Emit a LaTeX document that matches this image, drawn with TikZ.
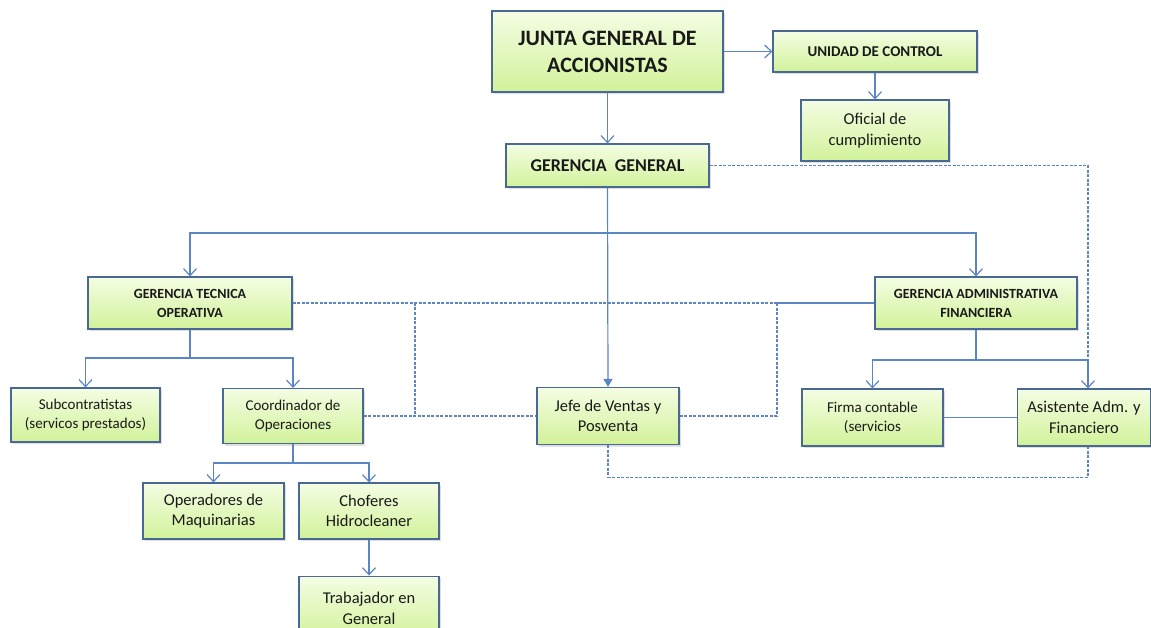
\documentclass[tikz,border=0pt]{standalone}
\usepackage{fontspec}
\setmainfont{Carlito}
\usetikzlibrary{arrows.meta, positioning, shadows, calc}

\definecolor{boxline}{HTML}{4A6894}
\definecolor{boxtop}{HTML}{F4FDE3}
\definecolor{boxbot}{HTML}{D2F29A}
\definecolor{linkblue}{HTML}{5B86C6}

\tikzset{
  org/.style={draw=boxline, line width=1.1pt, top color=boxtop, bottom color=boxbot,
    inner sep=0pt, align=center, text=black!90,
    drop shadow={shadow xshift=1.5pt, shadow yshift=-2pt, opacity=0.25}},
  bigtitle/.style={font=\bfseries\fontsize{22}{27}\selectfont},
  midtitle/.style={font=\bfseries\fontsize{14}{19}\selectfont},
  small/.style={font=\fontsize{15}{19}\selectfont},
  plain/.style={font=\fontsize{16.5}{20.5}\selectfont},
  link/.style={draw=linkblue, line width=1.2pt},
  arr/.style={link, -{Straight Barb[length=7pt,width=13pt]}},
  dsh/.style={draw=linkblue, line width=1.1pt, dash pattern=on 3pt off 1.5pt}
}

\begin{document}
\begin{tikzpicture}[x=1pt, y=-1pt, node distance=36pt]
    \useasboundingbox (0,0) rectangle (1151,628);

    % top of the chart
    \node[org, bigtitle, minimum width=231pt, minimum height=81pt] (junta) at (607.5,51.5) {JUNTA GENERAL DE\\ACCIONISTAS};
    \node[org, font=\bfseries\fontsize{15}{19}\selectfont, minimum width=204pt, minimum height=41pt] (unidad) at (875,51.5) {UNIDAD DE CONTROL};
    \node[org, plain, minimum width=148pt, minimum height=61pt] (oficial) at (875,130.5) {Oficial de\\cumplimiento};
    \node[org, font=\bfseries\fontsize{18}{22}\selectfont, minimum width=203pt, minimum height=43pt] (gg) at (607.5,165.5) {GERENCIA\ \ GENERAL};

    % managers
    \node[org, midtitle, minimum width=204pt, minimum height=52pt] (gto) at (190,303) {GERENCIA TECNICA\\OPERATIVA};
    \node[org, midtitle, minimum width=202pt, minimum height=52pt] (gaf) at (976,303) {GERENCIA ADMINISTRATIVA\\FINANCIERA};

    % third level
    \node[org, small, minimum width=149pt, minimum height=54pt] (sub) at (85.5,415) {Subcontratistas\\(servicos prestados)};
    \node[org, small, minimum width=140pt, minimum height=55pt] (coord) at (293,416) {Coordinador de\\Operaciones};
    \node[org, plain, minimum width=142pt, minimum height=57pt] (jefe) at (608,416) {Jefe de Ventas y\\Posventa};
    \node[org, small, minimum width=141pt, minimum height=57pt] (firma) at (872.5,417.5) {Firma contable\\(servicios};
    \node[org, plain, minimum width=133pt, minimum height=57pt] (asis) at (1084,417.5) {Asistente Adm. y\\Financiero};

    % operations staff
    \node[org, plain, minimum width=141pt, minimum height=56pt] (oper) at (213.5,511) {Operadores de\\Maquinarias};
    \node[org, plain, minimum width=140pt, minimum height=56pt] (chof) at (369,511) {Choferes\\Hidrocleaner};
    \node[org, plain, minimum width=140pt, minimum height=64pt, below=36pt of chof] (trab) {Trabajador en\\General};

    % junction points
    \coordinate (busgg) at (607.5,233);
    \coordinate (busgto) at (190,358);
    \coordinate (busgaf) at (976,360);
    \coordinate (buscoord) at (293,463);
    \coordinate (dashcut) at (777,303);
    \coordinate (dashleft) at (415,303);
    \coordinate (asisdrop) at (1088,360);

    % solid lines
    \draw[arr] (junta.east) -- (unidad.west);
    \draw[arr] (unidad.south) -- (oficial.north);
    \draw[arr] (junta.south) -- (gg.north);
    \draw[link] (gg.south) -- (busgg);
    \draw[arr] (busgg) -| (gto.north);
    \draw[arr] (busgg) -| (gaf.north);
    \draw[link, -{Triangle[length=8pt,width=9pt]}] (gg.south) -- (jefe.north);
    \draw[link] (gaf.south) -- (busgaf);
    \draw[arr] (busgaf) -| (firma.north);
    \draw[arr] (busgaf) -- (asisdrop) -- (asisdrop |- asis.north);
    \draw[link] (dashcut) -- (gaf.west);
    \draw[link] (firma.east) -- (asis.west);
    \draw[link] (gto.south) -- (busgto);
    \draw[arr] (busgto) -| (sub.north);
    \draw[arr] (busgto) -| (coord.north);
    \draw[link] (coord.south) -- (buscoord);
    \draw[arr] (buscoord) -| (oper.north);
    \draw[arr] (buscoord) -| (chof.north);
    \draw[arr] (chof) -- (trab);

    % dashed lines
    \draw[dsh] (gg.east) -| (asisdrop);
    \draw[dsh] (gto.east) -- (dashcut);
    \draw[dsh] (dashleft) -- (dashleft |- coord.east);
    \draw[dsh] (coord.east) -- (jefe.west);
    \draw[dsh] (jefe.east) -| (dashcut);
    \draw[dsh] (jefe.south) -- ++(0,32) -| (asisdrop |- asis.south);
\end{tikzpicture}
\end{document}
